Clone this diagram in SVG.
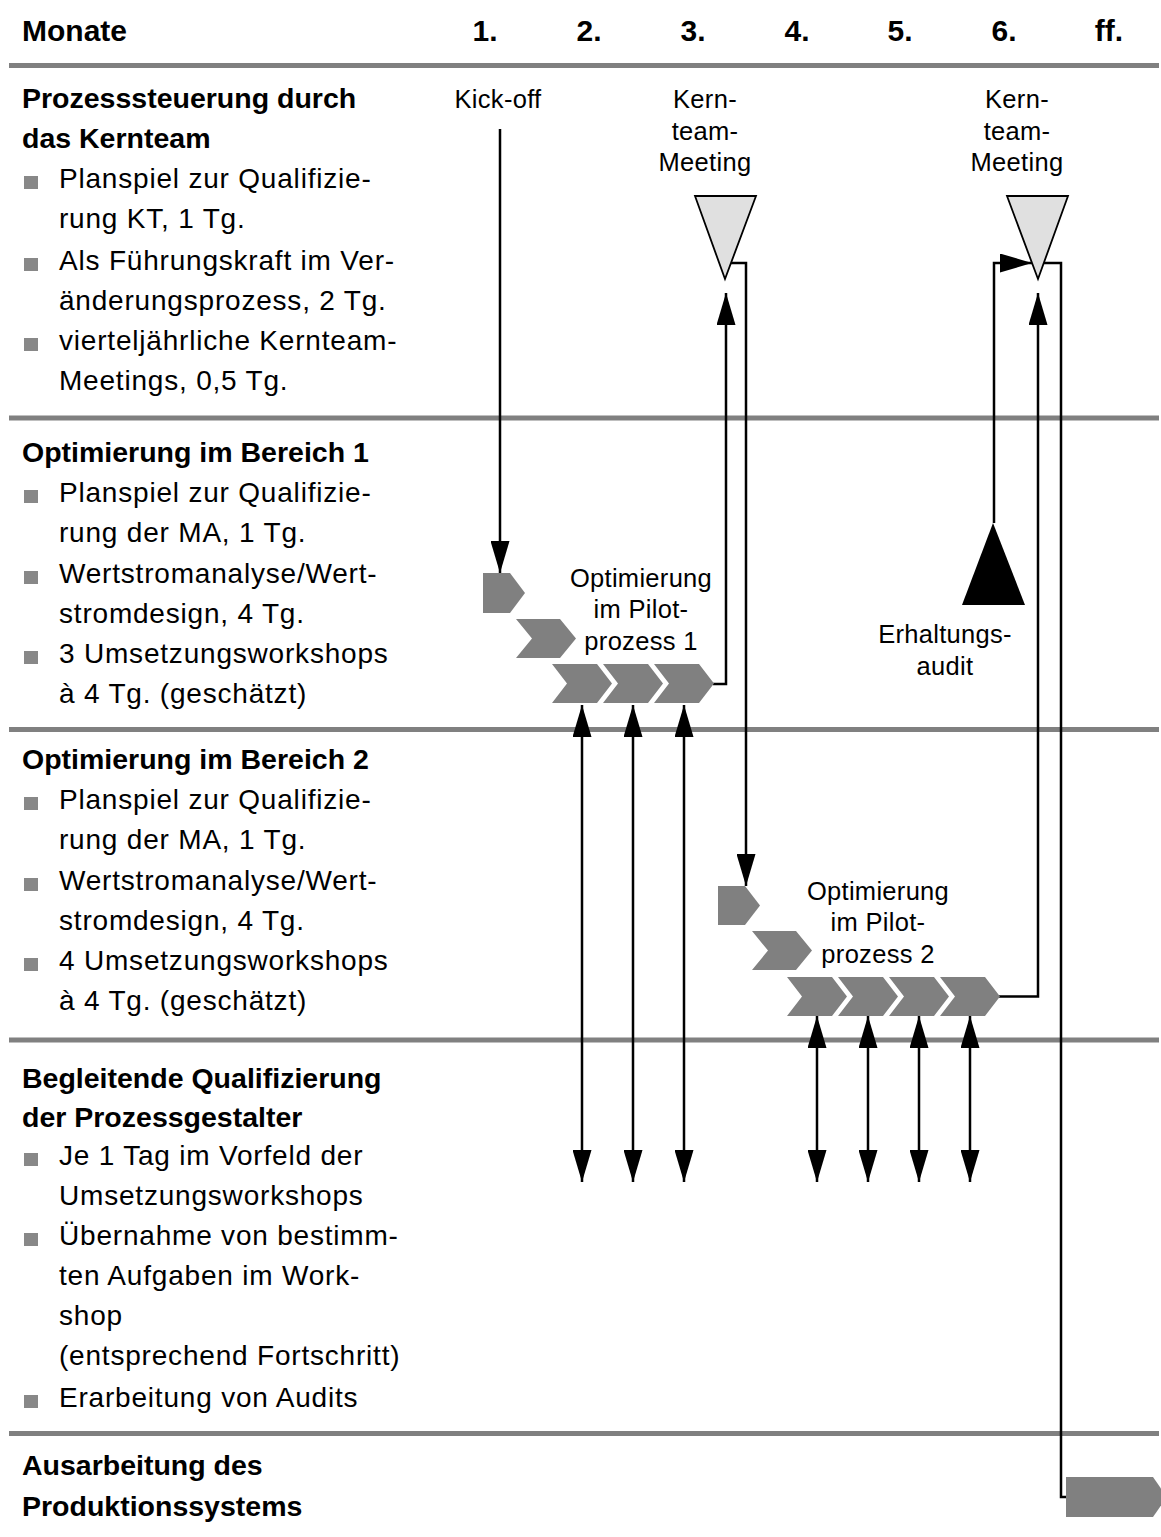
<svg xmlns="http://www.w3.org/2000/svg" width="1161" height="1537" viewBox="0 0 1161 1537">
<style>
text{font-family:"Liberation Sans",Arial,sans-serif;fill:#000}
.hd{font-size:30px;font-weight:bold}
.tt{font-size:28.5px;font-weight:bold}
.bd{font-size:28px;letter-spacing:0.8px}
.lb{font-size:25.5px;letter-spacing:0.3px;text-anchor:middle}
.sep{stroke:#808080;stroke-width:5}
.bul{fill:#888888}
.chev{fill:#808080}
.tri{fill:#e0e0e0;stroke:#000;stroke-width:1.8}
.con{fill:none;stroke:#000;stroke-width:2.5}
</style>
<defs>
<marker id="ah" viewBox="0 0 32 19" refX="32" refY="9.5" markerWidth="32" markerHeight="19" markerUnits="userSpaceOnUse" orient="auto-start-reverse">
<path d="M0,0 L32,9.5 L0,19 Z" fill="#000"/>
</marker>
</defs>
<rect width="1161" height="1537" fill="#fff"/>
<g id="header">
<text class="hd" x="22" y="41">Monate</text>
<text class="hd" x="485" y="41" text-anchor="middle">1.</text>
<text class="hd" x="589" y="41" text-anchor="middle">2.</text>
<text class="hd" x="693" y="41" text-anchor="middle">3.</text>
<text class="hd" x="797" y="41" text-anchor="middle">4.</text>
<text class="hd" x="900" y="41" text-anchor="middle">5.</text>
<text class="hd" x="1004" y="41" text-anchor="middle">6.</text>
<text class="hd" x="1109" y="41" text-anchor="middle">ff.</text>
</g>
<g id="separators">
<line class="sep" x1="9" y1="65.5" x2="1159" y2="65.5"/>
<line class="sep" x1="9" y1="418" x2="1159" y2="418"/>
<line class="sep" x1="9" y1="729.5" x2="1159" y2="729.5"/>
<line class="sep" x1="9" y1="1040" x2="1159" y2="1040"/>
<line class="sep" x1="9" y1="1433.5" x2="1159" y2="1433.5"/>
</g>
<g id="sec1">
<text class="tt" x="22" y="108">Prozesssteuerung durch</text>
<text class="tt" x="22" y="148">das Kernteam</text>
<rect class="bul" x="24" y="176" width="14" height="13"/>
<text class="bd" x="59" y="188">Planspiel zur Qualifizie-</text>
<text class="bd" x="59" y="228">rung KT, 1 Tg.</text>
<rect class="bul" x="24" y="258" width="14" height="13"/>
<text class="bd" x="59" y="270">Als Führungskraft im Ver-</text>
<text class="bd" x="59" y="310">änderungsprozess, 2 Tg.</text>
<rect class="bul" x="24" y="338" width="14" height="13"/>
<text class="bd" x="59" y="350">vierteljährliche Kernteam-</text>
<text class="bd" x="59" y="390">Meetings, 0,5 Tg.</text>
</g>
<g id="sec2">
<text class="tt" x="22" y="462">Optimierung im Bereich 1</text>
<rect class="bul" x="24" y="490" width="14" height="13"/>
<text class="bd" x="59" y="502">Planspiel zur Qualifizie-</text>
<text class="bd" x="59" y="542">rung der MA, 1 Tg.</text>
<rect class="bul" x="24" y="571" width="14" height="13"/>
<text class="bd" x="59" y="583">Wertstromanalyse/Wert-</text>
<text class="bd" x="59" y="623">stromdesign, 4 Tg.</text>
<rect class="bul" x="24" y="651" width="14" height="13"/>
<text class="bd" x="59" y="663">3 Umsetzungsworkshops</text>
<text class="bd" x="59" y="703">à 4 Tg. (geschätzt)</text>
</g>
<g id="sec3">
<text class="tt" x="22" y="769">Optimierung im Bereich 2</text>
<rect class="bul" x="24" y="797" width="14" height="13"/>
<text class="bd" x="59" y="809">Planspiel zur Qualifizie-</text>
<text class="bd" x="59" y="849">rung der MA, 1 Tg.</text>
<rect class="bul" x="24" y="878" width="14" height="13"/>
<text class="bd" x="59" y="890">Wertstromanalyse/Wert-</text>
<text class="bd" x="59" y="930">stromdesign, 4 Tg.</text>
<rect class="bul" x="24" y="958" width="14" height="13"/>
<text class="bd" x="59" y="970">4 Umsetzungsworkshops</text>
<text class="bd" x="59" y="1010">à 4 Tg. (geschätzt)</text>
</g>
<g id="sec4">
<text class="tt" x="22" y="1088">Begleitende Qualifizierung</text>
<text class="tt" x="22" y="1127">der Prozessgestalter</text>
<rect class="bul" x="24" y="1153" width="14" height="13"/>
<text class="bd" x="59" y="1165">Je 1 Tag im Vorfeld der</text>
<text class="bd" x="59" y="1205">Umsetzungsworkshops</text>
<rect class="bul" x="24" y="1233" width="14" height="13"/>
<text class="bd" x="59" y="1245">Übernahme von bestimm-</text>
<text class="bd" x="59" y="1285">ten Aufgaben im Work-</text>
<text class="bd" x="59" y="1325">shop</text>
<text class="bd" x="59" y="1365">(entsprechend Fortschritt)</text>
<rect class="bul" x="24" y="1395" width="14" height="13"/>
<text class="bd" x="59" y="1407">Erarbeitung von Audits</text>
</g>
<g id="sec5">
<text class="tt" x="22" y="1475">Ausarbeitung des</text>
<text class="tt" x="22" y="1516">Produktionssystems</text>
</g>
<g id="connectors">
<line class="con" x1="500" y1="129" x2="500" y2="573" marker-end="url(#ah)"/>
<polyline class="con" points="713,684 726,684 726,293" marker-end="url(#ah)"/>
<polyline class="con" points="731,263 746,263 746,886" marker-end="url(#ah)"/>
<polyline class="con" points="999,996.5 1038,996.5 1038,293" marker-end="url(#ah)"/>
<polyline class="con" points="994,523 994,263 1032,263" marker-end="url(#ah)"/>
<polyline class="con" points="1044,263 1061,263 1061,1497 1067,1497"/>
<line class="con" x1="582" y1="705" x2="582" y2="1182" marker-start="url(#ah)" marker-end="url(#ah)"/>
<line class="con" x1="633" y1="705" x2="633" y2="1182" marker-start="url(#ah)" marker-end="url(#ah)"/>
<line class="con" x1="684" y1="705" x2="684" y2="1182" marker-start="url(#ah)" marker-end="url(#ah)"/>
<line class="con" x1="817" y1="1016" x2="817" y2="1182" marker-start="url(#ah)" marker-end="url(#ah)"/>
<line class="con" x1="868" y1="1016" x2="868" y2="1182" marker-start="url(#ah)" marker-end="url(#ah)"/>
<line class="con" x1="919" y1="1016" x2="919" y2="1182" marker-start="url(#ah)" marker-end="url(#ah)"/>
<line class="con" x1="970" y1="1016" x2="970" y2="1182" marker-start="url(#ah)" marker-end="url(#ah)"/>
</g>
<g id="kickoff">
<text class="lb" x="498" y="108">Kick-off</text>
</g>
<g id="meeting1">
<polygon class="tri" points="695,196 756,196 725,279"/>
<text class="lb" x="705" y="108">Kern-</text>
<text class="lb" x="705" y="140">team-</text>
<text class="lb" x="705" y="171">Meeting</text>
</g>
<g id="meeting2">
<polygon class="tri" points="1007,196 1068,196 1038,279"/>
<text class="lb" x="1017" y="108">Kern-</text>
<text class="lb" x="1017" y="140">team-</text>
<text class="lb" x="1017" y="171">Meeting</text>
</g>
<g id="audit">
<polygon points="993,523 1025,605 962,605" fill="#000"/>
<text class="lb" x="945" y="643">Erhaltungs-</text>
<text class="lb" x="945" y="675">audit</text>
</g>
<g id="pilot1">
<polygon class="chev" points="483,573 510,573 525,593 510,613 483,613"/>
<polygon class="chev" points="516,619 560,619 576,638.5 560,658 516,658 532,638.5"/>
<polygon class="chev" points="552,664 597,664 612,683.5 597,703 552,703 567,683.5"/>
<polygon class="chev" points="603,664 648,664 663,683.5 648,703 603,703 618,683.5"/>
<polygon class="chev" points="654,664 699,664 714,683.5 699,703 654,703 669,683.5"/>
<text class="lb" x="641" y="587">Optimierung</text>
<text class="lb" x="641" y="618">im Pilot-</text>
<text class="lb" x="641" y="650">prozess 1</text>
</g>
<g id="pilot2">
<polygon class="chev" points="718,886 745,886 760,905.5 745,925 718,925"/>
<polygon class="chev" points="752,931 796,931 812,950.5 796,970 752,970 768,950.5"/>
<polygon class="chev" points="787,977 832,977 847,996.5 832,1016 787,1016 802,996.5"/>
<polygon class="chev" points="838,977 883,977 898,996.5 883,1016 838,1016 853,996.5"/>
<polygon class="chev" points="889,977 934,977 949,996.5 934,1016 889,1016 904,996.5"/>
<polygon class="chev" points="940,977 985,977 1000,996.5 985,1016 940,1016 955,996.5"/>
<text class="lb" x="878" y="900">Optimierung</text>
<text class="lb" x="878" y="931">im Pilot-</text>
<text class="lb" x="878" y="963">prozess 2</text>
</g>
<g id="produktionssystem">
<polygon class="chev" points="1066,1477 1153,1477 1167,1497 1153,1517 1066,1517"/>
</g>
</svg>
